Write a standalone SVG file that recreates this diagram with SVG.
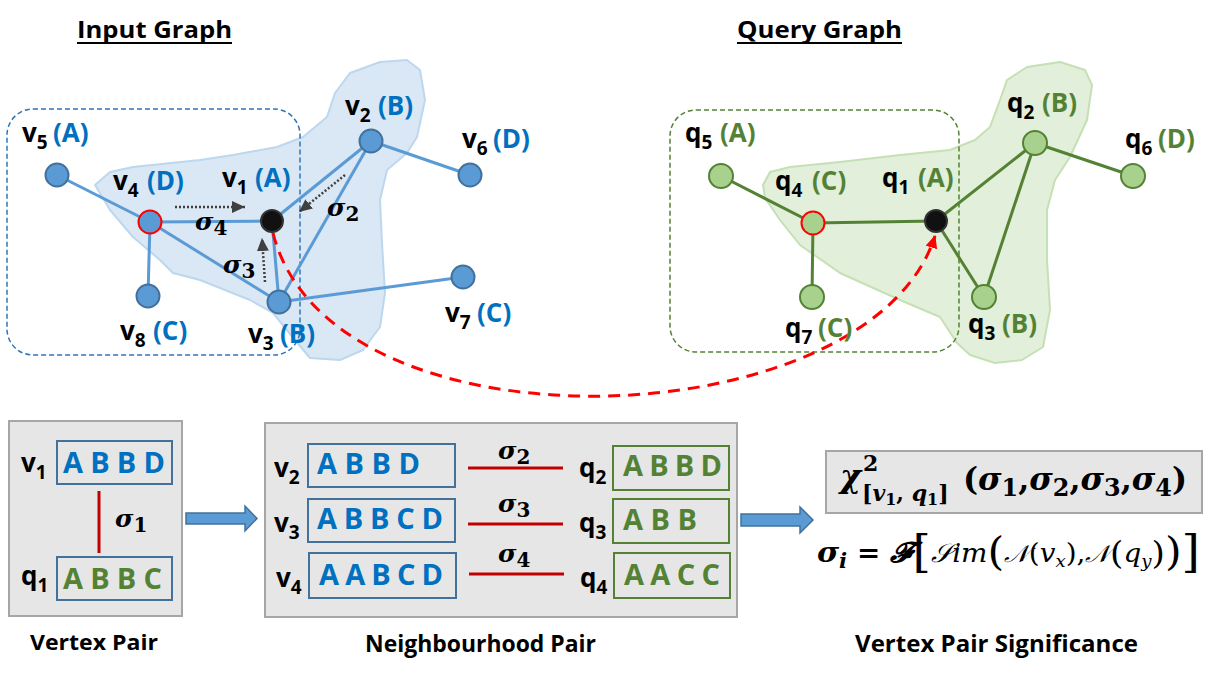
<svg xmlns="http://www.w3.org/2000/svg" width="1223" height="680" viewBox="0 0 1223 680">
<style>
.t{font-family:"Open Sans","Liberation Sans",sans-serif;font-weight:bold;fill:#000}
.lb{font-family:"Open Sans","Liberation Sans",sans-serif;font-weight:bold;font-size:26px;fill:#000}
.sub{font-size:19px}
.bl{fill:#0070c0}
.gr{fill:#548235}
.sg{font-family:"DejaVu Serif","Liberation Serif",serif;font-weight:bold;font-style:italic;font-size:25px;fill:#000}
.sgs{font-style:normal;font-size:20px}
.be{stroke:#5b9bd5;stroke-width:3;fill:none}
.ge{stroke:#548235;stroke-width:3;fill:none}
.bn{fill:#5b9bd5;stroke:#41719c;stroke-width:2}
.gn{fill:#a9d18e;stroke:#548235;stroke-width:2}
.blk{fill:#111;stroke:#333;stroke-width:2}
.red{stroke:#ff0000;stroke-width:2}
.dot{stroke:#404040;stroke-width:2.5;stroke-dasharray:2 2;fill:none;marker-end:url(#ah)}
.panel{fill:#e7e6e6;stroke:#a6a6a6;stroke-width:2}
.bbox{fill:none;stroke:#41719c;stroke-width:2}
.gbox{fill:none;stroke:#548235;stroke-width:2}
.seq{font-family:"Open Sans","Liberation Sans",sans-serif;font-weight:bold;font-size:29px}
.rl{stroke:#c00000;stroke-width:3}
.barrow{fill:#5b9bd5;stroke:#41719c;stroke-width:1.5}
.m{font-family:"DejaVu Serif","Liberation Serif",serif;font-weight:bold;font-style:italic;fill:#000}
.mu{font-style:normal}
.nw{font-weight:normal}
</style>
<defs>
<marker id="ah" markerUnits="userSpaceOnUse" markerWidth="14" markerHeight="12" refX="13" refY="6" orient="auto">
<path d="M0,0 L13,6 L0,12 z" fill="#404040"/>
</marker>
<marker id="rah" markerUnits="userSpaceOnUse" markerWidth="14" markerHeight="12" refX="12" refY="6" orient="auto">
<path d="M0,0 L13,6 L0,12 z" fill="#ff0000"/>
</marker>
</defs>

<!-- titles -->
<g id="title-input">
<text class="t" x="77" y="38" font-size="24" textLength="155" lengthAdjust="spacingAndGlyphs">Input Graph</text>
<line x1="77" y1="43" x2="232" y2="43" stroke="#000" stroke-width="2"/>
</g>
<g id="title-query">
<text class="t" x="737" y="38" font-size="24" textLength="165" lengthAdjust="spacingAndGlyphs">Query Graph</text>
<line x1="737" y1="43" x2="902" y2="43" stroke="#000" stroke-width="2"/>
</g>

<!-- blobs and dashed regions -->
<g id="input-region">
<path d="M95,185 L110,172 L133,167 L200,160 L233,155 L277,147 L303,137 L327,117 L335,93 L350,73 L380,62 L407,60 L420,70 L425,100 L417,137 L407,153 L387,170 L380,200 L382,243 L385,293 L380,327 L363,350 L340,360 L310,358 L295,340 L273,313 L250,300 L200,280 L173,273 L160,260 L133,237 L110,210 Z" fill="#dae7f5" stroke="#bdd7ee" stroke-width="2" stroke-linejoin="round"/>
<rect x="7" y="109" width="293" height="246" rx="26" fill="none" stroke="#2e75b6" stroke-width="1.5" stroke-dasharray="5 3"/>
</g>
<g id="query-region">
<path d="M763,185 L770,172 L790,167 L840,162 L900,155 L950,150 L975,140 L990,127 L1000,100 L1007,80 L1027,67 L1060,62 L1085,70 L1092,85 L1087,120 L1070,157 L1055,180 L1047,210 L1047,260 L1050,310 L1043,347 L1022,360 L995,363 L970,355 L957,343 L940,317 L900,300 L840,273 L800,245 L780,220 L765,198 Z" fill="#e2efda" stroke="#c5e0b4" stroke-width="2" stroke-linejoin="round"/>
<rect x="670" y="110" width="289" height="242" rx="26" fill="none" stroke="#548235" stroke-width="1.5" stroke-dasharray="5 3"/>
</g>

<!-- connectors -->
<g id="connectors">
<line class="be" x1="57" y1="175" x2="150" y2="222"/>
<line class="be" x1="150" y1="222" x2="272" y2="221"/>
<line class="be" x1="150" y1="222" x2="148" y2="296"/>
<line class="be" x1="150" y1="222" x2="279" y2="302"/>
<line class="be" x1="272" y1="221" x2="371" y2="141"/>
<line class="be" x1="272" y1="221" x2="279" y2="302"/>
<line class="be" x1="371" y1="141" x2="279" y2="302"/>
<line class="be" x1="371" y1="141" x2="470" y2="175"/>
<line class="be" x1="279" y1="302" x2="463" y2="277"/>

<line class="ge" x1="721" y1="176" x2="813" y2="223"/>
<line class="ge" x1="813" y1="223" x2="936" y2="221"/>
<line class="ge" x1="813" y1="223" x2="812" y2="297"/>
<line class="ge" x1="936" y1="221" x2="1035" y2="143"/>
<line class="ge" x1="936" y1="221" x2="984" y2="297"/>
<line class="ge" x1="1035" y1="143" x2="984" y2="297"/>
<line class="ge" x1="1035" y1="143" x2="1133" y2="176"/>

<line class="dot" x1="175" y1="207" x2="245" y2="207"/>
<line class="dot" x1="265" y1="282" x2="262" y2="238"/>
<line class="dot" x1="345" y1="175" x2="299" y2="212"/>

<path d="M273,233 C330,460 870,440 935,236" fill="none" stroke="#ff0000" stroke-width="3" stroke-dasharray="12 8" marker-end="url(#rah)"/>

<path class="barrow" d="M186,513 H245 V506 L257,518.5 L245,531 V524 H186 Z"/>
<path class="barrow" d="M741,514 H800 V507 L813,520 L800,533 V526 H741 Z"/>
</g>

<!-- sigma labels on input graph -->
<g id="sigma-labels">
<text class="sg" x="195" y="230">σ<tspan class="sgs" dy="5">4</tspan></text>
<text class="sg" x="223" y="273">σ<tspan class="sgs" dy="5">3</tspan></text>
<text class="sg" x="327" y="216">σ<tspan class="sgs" dy="5">2</tspan></text>
</g>

<!-- input nodes -->
<g id="v1"><circle class="blk" cx="272" cy="221" r="11"/>
<text class="lb" x="222" y="187">v<tspan class="sub" dy="7">1</tspan><tspan class="bl" x="255" dy="-7">(A)</tspan></text></g>
<g id="v2"><circle class="bn" cx="371" cy="141" r="11.5"/>
<text class="lb" x="345" y="115">v<tspan class="sub" dy="7">2</tspan><tspan class="bl" x="378" dy="-7">(B)</tspan></text></g>
<g id="v3"><circle class="bn" cx="279" cy="302" r="11.5"/>
<text class="lb" x="248" y="343">v<tspan class="sub" dy="7">3</tspan><tspan class="bl" x="280" dy="-7">(B)</tspan></text></g>
<g id="v4"><circle class="bn red" cx="150" cy="222" r="11.5"/>
<text class="lb" x="113" y="190">v<tspan class="sub" dy="7">4</tspan><tspan class="bl" x="147" dy="-7">(D)</tspan></text></g>
<g id="v5"><circle class="bn" cx="57" cy="175" r="11.5"/>
<text class="lb" x="22" y="142">v<tspan class="sub" dy="7">5</tspan><tspan class="bl" x="53" dy="-7">(A)</tspan></text></g>
<g id="v6"><circle class="bn" cx="470" cy="175" r="11.5"/>
<text class="lb" x="462" y="148">v<tspan class="sub" dy="7">6</tspan><tspan class="bl" x="493" dy="-7">(D)</tspan></text></g>
<g id="v7"><circle class="bn" cx="463" cy="277" r="11.5"/>
<text class="lb" x="445" y="322">v<tspan class="sub" dy="7">7</tspan><tspan class="bl" x="477" dy="-7">(C)</tspan></text></g>
<g id="v8"><circle class="bn" cx="148" cy="296" r="11.5"/>
<text class="lb" x="120" y="340">v<tspan class="sub" dy="7">8</tspan><tspan class="bl" x="153" dy="-7">(C)</tspan></text></g>

<!-- query nodes -->
<g id="q1"><circle class="blk" cx="936" cy="221" r="11"/>
<text class="lb" x="882" y="187">q<tspan class="sub" dy="7">1</tspan><tspan class="gr" x="918" dy="-7">(A)</tspan></text></g>
<g id="q2"><circle class="gn" cx="1035" cy="143" r="12"/>
<text class="lb" x="1007" y="112">q<tspan class="sub" dy="7">2</tspan><tspan class="gr" x="1042" dy="-7">(B)</tspan></text></g>
<g id="q3"><circle class="gn" cx="984" cy="297" r="12"/>
<text class="lb" x="968" y="333">q<tspan class="sub" dy="7">3</tspan><tspan class="gr" x="1002" dy="-7">(B)</tspan></text></g>
<g id="q4"><circle class="gn red" cx="813" cy="223" r="11.5"/>
<text class="lb" x="775" y="190">q<tspan class="sub" dy="7">4</tspan><tspan class="gr" x="812" dy="-7">(C)</tspan></text></g>
<g id="q5"><circle class="gn" cx="721" cy="176" r="12"/>
<text class="lb" x="685" y="142">q<tspan class="sub" dy="7">5</tspan><tspan class="gr" x="720" dy="-7">(A)</tspan></text></g>
<g id="q6"><circle class="gn" cx="1133" cy="176" r="12"/>
<text class="lb" x="1125" y="148">q<tspan class="sub" dy="7">6</tspan><tspan class="gr" x="1158" dy="-7">(D)</tspan></text></g>
<g id="q7"><circle class="gn" cx="812" cy="297" r="12"/>
<text class="lb" x="785" y="337">q<tspan class="sub" dy="7">7</tspan><tspan class="gr" x="818" dy="-7">(C)</tspan></text></g>

<!-- vertex pair -->
<g id="vertex-pair">
<rect class="panel" x="9" y="421" width="173" height="195"/>
<text class="lb" x="21" y="472">v<tspan class="sub" dy="7">1</tspan></text>
<rect class="bbox" x="57" y="441" width="115" height="43"/>
<text class="seq bl" x="63" y="473" textLength="102">A B B D</text>
<line class="rl" x1="99" y1="491" x2="99" y2="553"/>
<text class="sg" x="115" y="527" font-size="27">σ<tspan class="sgs" dy="5">1</tspan></text>
<text class="lb" x="21" y="585">q<tspan class="sub" dy="7">1</tspan></text>
<rect class="bbox" x="57" y="557" width="115" height="43"/>
<text class="seq gr" x="63" y="589" textLength="99">A B B C</text>
<text class="t" x="30" y="650" font-size="22" textLength="128" lengthAdjust="spacingAndGlyphs">Vertex Pair</text>
</g>

<!-- neighbourhood pair -->
<g id="neighbourhood-pair">
<rect class="panel" x="265" y="423" width="472" height="194"/>
<text class="lb" x="274" y="477">v<tspan class="sub" dy="7">2</tspan></text>
<rect class="bbox" x="308" y="444" width="147" height="43"/>
<text class="seq bl" x="317" y="474">A B B D</text>
<line class="rl" x1="468" y1="468" x2="563" y2="468"/>
<text class="sg" x="498" y="459" font-size="27">σ<tspan class="sgs" dy="5">2</tspan></text>
<text class="lb" x="579" y="477">q<tspan class="sub" dy="7">2</tspan></text>
<rect class="gbox" x="613" y="446" width="116" height="44"/>
<text class="seq gr" x="623" y="476" textLength="99">A B B D</text>

<text class="lb" x="274" y="532">v<tspan class="sub" dy="7">3</tspan></text>
<rect class="bbox" x="308" y="499" width="147" height="43"/>
<text class="seq bl" x="317" y="529" textLength="126">A B B C D</text>
<line class="rl" x1="468" y1="524" x2="563" y2="524"/>
<text class="sg" x="498" y="512" font-size="27">σ<tspan class="sgs" dy="5">3</tspan></text>
<text class="lb" x="579" y="532">q<tspan class="sub" dy="7">3</tspan></text>
<rect class="gbox" x="613" y="499" width="116" height="44"/>
<text class="seq gr" x="623" y="530">A B B</text>

<text class="lb" x="276" y="587">v<tspan class="sub" dy="7">4</tspan></text>
<rect class="bbox" x="309" y="553" width="147" height="45"/>
<text class="seq bl" x="319" y="585" textLength="124">A A B C D</text>
<line class="rl" x1="469" y1="574" x2="564" y2="574"/>
<text class="sg" x="498" y="562" font-size="27">σ<tspan class="sgs" dy="5">4</tspan></text>
<text class="lb" x="580" y="587">q<tspan class="sub" dy="7">4</tspan></text>
<rect class="gbox" x="614" y="553" width="116" height="45"/>
<text class="seq gr" x="624" y="585" textLength="96">A A C C</text>
<text class="t" x="365" y="652" font-size="23" textLength="231" lengthAdjust="spacingAndGlyphs">Neighbourhood Pair</text>
</g>

<!-- significance -->
<g id="significance">
<rect class="panel" x="826" y="451" width="376" height="62"/>
<text class="m" x="840" y="487" font-size="32">χ</text>
<text class="m mu" x="863" y="471" font-size="22">2</text>
<text class="m" x="862" y="501" font-size="22"><tspan class="mu">[</tspan>v<tspan class="mu" font-size="16" dy="4">1</tspan><tspan class="mu" dy="-4">, </tspan>q<tspan class="mu" font-size="16" dy="4">1</tspan><tspan class="mu" dy="-4">]</tspan></text>
<text class="m" x="963" y="490" font-size="32" textLength="224" lengthAdjust="spacingAndGlyphs"><tspan class="mu">(</tspan>σ<tspan class="mu" font-size="24" dy="6">1</tspan><tspan class="mu" dy="-6">,</tspan>σ<tspan class="mu" font-size="24" dy="6">2</tspan><tspan class="mu" dy="-6">,</tspan>σ<tspan class="mu" font-size="24" dy="6">3</tspan><tspan class="mu" dy="-6">,</tspan>σ<tspan class="mu" font-size="24" dy="6">4</tspan><tspan class="mu" dy="-6">)</tspan></text>

<text class="m" x="817" y="562" font-size="28" textLength="383" lengthAdjust="spacingAndGlyphs">σ<tspan font-size="20" dy="6">i</tspan><tspan class="mu" font-size="26" dy="-6"> = </tspan>𝓕<tspan class="mu nw" font-size="44" dy="5">[</tspan><tspan class="nw" font-size="26" dy="-5">𝒮im</tspan><tspan class="mu nw" font-size="40" dy="3">(</tspan><tspan class="nw" font-size="24" dy="-3">𝒩</tspan><tspan class="mu nw" font-size="26">(</tspan><tspan class="nw" font-size="26">v</tspan><tspan class="nw" font-size="17" dy="5">x</tspan><tspan class="mu nw" font-size="26" dy="-5">),</tspan><tspan class="nw" font-size="24">𝒩</tspan><tspan class="mu nw" font-size="32" dy="2">(</tspan><tspan class="nw" font-size="26" dy="-2">q</tspan><tspan class="nw" font-size="17" dy="5">y</tspan><tspan class="mu nw" font-size="32" dy="-3">)</tspan><tspan class="mu nw" font-size="40" dy="1">)</tspan><tspan class="mu nw" font-size="44" dy="2">]</tspan></text>
<text class="t" x="855" y="652" font-size="23" textLength="283" lengthAdjust="spacingAndGlyphs">Vertex Pair Significance</text>
</g>
</svg>
